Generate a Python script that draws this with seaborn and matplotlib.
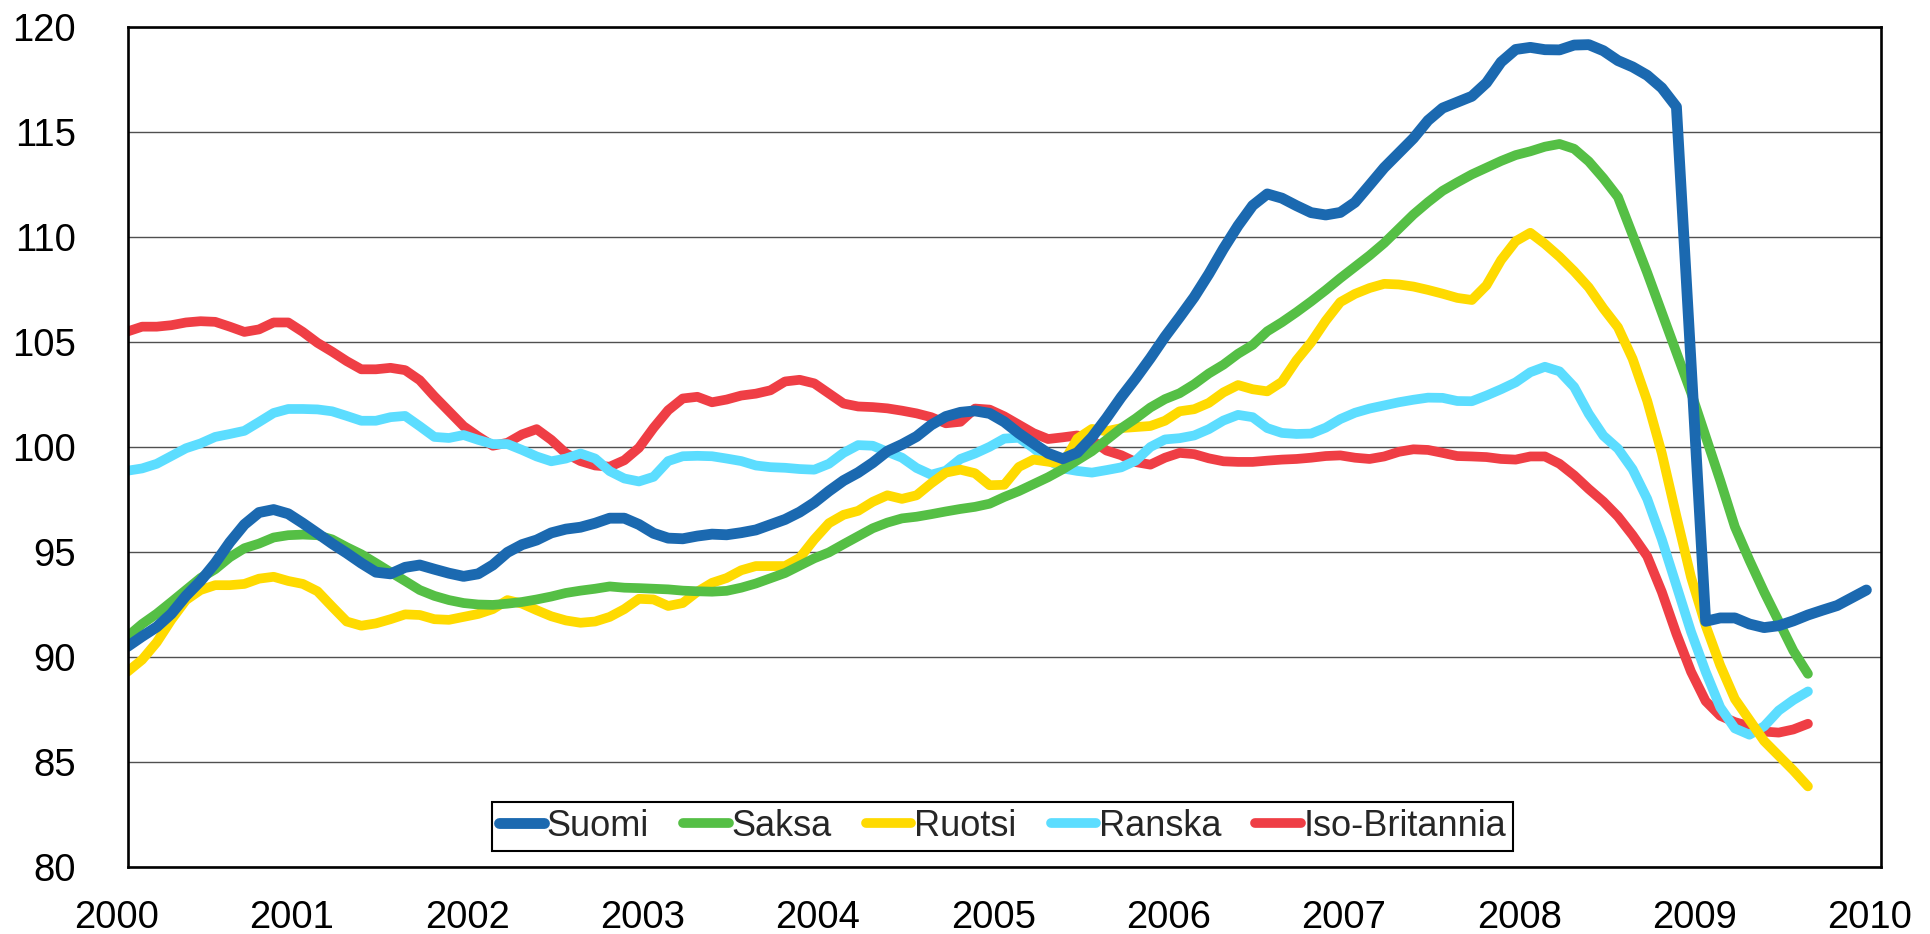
import numpy as np
import pandas as pd
import matplotlib
matplotlib.use("Agg")
import matplotlib.pyplot as plt
import matplotlib.transforms as mtransforms
import seaborn as sns

# ---------------- data ----------------
series_names = ["Suomi", "Saksa", "Ruotsi", "Ranska", "Iso-Britannia"]
series_colors = ["#1B69B0", "#55BF45", "#FFDA00", "#5CDDFF", "#EF3E45"]
start_year = 2000  # monthly observations starting January 2000

suomi = [
    90.5, 90.98, 91.43, 92.06, 92.91, 93.62, 94.47, 95.46, 96.31, 96.88,
    97.02, 96.82, 96.37, 95.89, 95.4, 94.95, 94.47, 94.04, 93.96, 94.27,
    94.38, 94.18, 93.99, 93.84, 93.96, 94.38, 94.98, 95.35, 95.57, 95.91,
    96.09, 96.18, 96.37, 96.61, 96.61, 96.31, 95.89, 95.66, 95.63, 95.76,
    95.85, 95.82, 95.92, 96.05, 96.3, 96.55, 96.9, 97.35, 97.9, 98.4,
    98.78, 99.25, 99.8, 100.12, 100.5, 101.05, 101.45, 101.65, 101.72, 101.6,
    101.2, 100.65, 100.17, 99.7, 99.44, 99.73, 100.46, 101.38, 102.37, 103.27,
    104.23, 105.25, 106.18, 107.14, 108.24, 109.44, 110.54, 111.5, 112.05, 111.85,
    111.49, 111.16, 111.05, 111.17, 111.65, 112.47, 113.3, 114.0, 114.7, 115.55,
    116.14, 116.42, 116.7, 117.34, 118.33, 118.93, 119.03, 118.92, 118.91, 119.14,
    119.16, 118.87, 118.4, 118.1, 117.7, 117.1, 116.2, 104.0, 91.7, 91.86,
    91.86, 91.57, 91.4, 91.49, 91.72, 92.0, 92.23, 92.45, 92.82, 93.19,
]
saksa = [
    90.98, 91.57, 92.06, 92.62, 93.19, 93.76, 94.18, 94.75, 95.18, 95.4,
    95.69, 95.8, 95.83, 95.8, 95.6, 95.23, 94.89, 94.47, 94.04, 93.62,
    93.19, 92.91, 92.71, 92.57, 92.5, 92.48, 92.54, 92.62, 92.74, 92.88,
    93.05, 93.16, 93.25, 93.36, 93.3, 93.28, 93.25, 93.22, 93.16, 93.13,
    93.11, 93.15, 93.3, 93.5, 93.75, 94.0, 94.35, 94.7, 94.98, 95.37,
    95.75, 96.13, 96.4, 96.6, 96.68, 96.8, 96.93, 97.05, 97.15, 97.3,
    97.62, 97.9, 98.23, 98.56, 98.94, 99.37, 99.8, 100.34, 100.89, 101.36,
    101.88, 102.28, 102.56, 102.99, 103.5, 103.92, 104.44, 104.86, 105.51, 105.94,
    106.42, 106.93, 107.47, 108.04, 108.58, 109.12, 109.71, 110.39, 111.07, 111.66,
    112.2, 112.6, 112.98, 113.3, 113.62, 113.9, 114.08, 114.3, 114.43, 114.2,
    113.6, 112.8, 111.9, 110.1, 108.3, 106.4, 104.5, 102.6, 100.5, 98.4,
    96.2, 94.6, 93.1, 91.7, 90.3, 89.2,
]
ruotsi = [
    89.3, 89.87, 90.7, 91.77, 92.71, 93.19, 93.42, 93.42, 93.48, 93.73,
    93.82, 93.62, 93.48, 93.13, 92.4, 91.69, 91.49, 91.6, 91.8, 92.03,
    92.0, 91.8, 91.77, 91.91, 92.05, 92.28, 92.71, 92.54, 92.23, 91.94,
    91.74, 91.63, 91.69, 91.91, 92.28, 92.77, 92.74, 92.43, 92.57, 93.11,
    93.53, 93.76, 94.13, 94.33, 94.33, 94.33, 94.72, 95.6, 96.37, 96.77,
    96.96, 97.39, 97.7, 97.53, 97.7, 98.27, 98.78, 98.92, 98.75, 98.18,
    98.2, 99.05, 99.4, 99.3, 99.19, 100.4, 100.86, 100.75, 100.9, 100.95,
    101.0, 101.25, 101.7, 101.8, 102.1, 102.6, 102.95, 102.75, 102.65, 103.1,
    104.13, 104.98, 106.01, 106.9, 107.29, 107.57, 107.77, 107.74, 107.64, 107.48,
    107.3, 107.1, 107.0, 107.7, 108.9, 109.8, 110.2, 109.67, 109.06, 108.37,
    107.6, 106.6, 105.7, 104.2, 102.2, 99.7, 96.7, 93.8, 91.5, 89.6,
    88.0, 87.0, 86.0, 85.3, 84.6, 83.84,
]
ranska = [
    98.87, 98.98, 99.2, 99.57, 99.94, 100.17, 100.48, 100.62, 100.77, 101.19,
    101.62, 101.81, 101.81, 101.79, 101.7, 101.48, 101.25, 101.25, 101.42, 101.48,
    100.99, 100.48, 100.43, 100.57, 100.34, 100.14, 100.14, 99.86, 99.55, 99.32,
    99.45, 99.69, 99.45, 98.85, 98.5, 98.36, 98.58, 99.33, 99.56, 99.58,
    99.56, 99.45, 99.33, 99.12, 99.04, 99.01, 98.95, 98.92, 99.2, 99.72,
    100.09, 100.06, 99.77, 99.49, 99.0, 98.68, 98.87, 99.43, 99.69, 100.01,
    100.4, 100.44, 99.95, 99.38, 98.98, 98.86, 98.78, 98.9, 99.03, 99.35,
    100.0, 100.36, 100.42, 100.55, 100.85, 101.26, 101.53, 101.42, 100.9, 100.67,
    100.62, 100.64, 100.92, 101.33, 101.63, 101.83, 101.98, 102.13, 102.25, 102.35,
    102.34, 102.19, 102.18, 102.45, 102.75, 103.08, 103.56, 103.82, 103.6, 102.86,
    101.58, 100.54, 99.92, 98.94, 97.53, 95.6, 93.4, 91.2, 89.3, 87.6,
    86.6, 86.3, 86.7, 87.45, 87.95, 88.36,
]
iso_britannia = [
    105.5, 105.73, 105.73, 105.8, 105.93, 105.99, 105.96, 105.73, 105.48, 105.6,
    105.93, 105.93, 105.48, 104.96, 104.54, 104.09, 103.7, 103.7, 103.77, 103.66,
    103.18, 102.41, 101.7, 100.99, 100.5, 100.06, 100.2, 100.6, 100.85, 100.34,
    99.7, 99.33, 99.12, 99.06, 99.37, 99.96, 100.91, 101.75, 102.31, 102.39,
    102.13, 102.26, 102.45, 102.54, 102.7, 103.12, 103.2, 103.03, 102.55, 102.07,
    101.93, 101.9, 101.84, 101.73, 101.6, 101.42, 101.13, 101.2, 101.83, 101.78,
    101.46, 101.06, 100.66, 100.38, 100.46, 100.55, 100.32, 99.83, 99.61, 99.28,
    99.16, 99.49, 99.72, 99.66, 99.46, 99.32, 99.29, 99.29, 99.35, 99.4,
    99.43, 99.49, 99.57, 99.6, 99.49, 99.43, 99.55, 99.77, 99.89, 99.86,
    99.72, 99.57, 99.55, 99.52, 99.43, 99.4, 99.55, 99.55, 99.2, 98.65,
    98.0, 97.4, 96.69, 95.8, 94.8, 93.1, 91.1, 89.3, 87.9, 87.2,
    86.9, 86.7, 86.45, 86.4, 86.55, 86.82,
]

year_ticks = list(range(2000, 2011))
value_ticks = [80, 85, 90, 95, 100, 105, 110, 115, 120]

# ---------------- style ----------------
sns.set_style("white")
plt.rcParams["font.family"] = ["Liberation Sans", "DejaVu Sans"]

W, H = 1930, 934
fig = plt.figure(figsize=(W / 100, H / 100), dpi=100)
ax_left, ax_right, ax_top, ax_bottom = 127.5, 1881, 27, 867
ax = fig.add_axes([ax_left / W, 1 - ax_bottom / H,
                   (ax_right - ax_left) / W, (ax_bottom - ax_top) / H])

all_values = [suomi, saksa, ruotsi, ranska, iso_britannia]
frames = []
for name, vals in zip(series_names, all_values):
    frames.append(pd.DataFrame({
        "aika": start_year + np.arange(len(vals)) / 12.0,
        "indeksi": vals,
        "maa": name,
    }))
df = pd.concat(frames, ignore_index=True)

line_widths = {"Suomi": 7.8, "Saksa": 7.0, "Ruotsi": 7.0, "Ranska": 7.0, "Iso-Britannia": 7.0}
handles = {}
for i in reversed(range(len(series_names))):
    name = series_names[i]
    sub = df[df["maa"] == name]
    sns.lineplot(data=sub, x="aika", y="indeksi", ax=ax, color=series_colors[i],
                 linewidth=line_widths[name], estimator=None, legend=False,
                 solid_capstyle="round", solid_joinstyle="round",
                 zorder=3 + (len(series_names) - i))
    handles[name] = ax.lines[-1]

ax.set_xlim(2000, 2010)
ax.set_ylim(80, 120)
ax.set_xticks(year_ticks)
ax.set_xticklabels([str(y) for y in year_ticks])
ax.set_yticks(value_ticks)
ax.set_yticklabels([str(v) for v in value_ticks])
ax.set_xlabel("")
ax.set_ylabel("")

ax.yaxis.grid(True, color="#505050", linewidth=1.0)
ax.xaxis.grid(False)
ax.set_axisbelow(True)
for sp in ax.spines.values():
    sp.set_visible(True)
    sp.set_color("black")
    sp.set_linewidth(1.9)
    sp.set_zorder(20)

ax.tick_params(axis="both", length=0, labelsize=27.5, labelcolor="black")
ax.tick_params(axis="y", pad=37)
ax.tick_params(axis="x", pad=24)

shift = mtransforms.ScaledTranslation(-11 / 100, 0, fig.dpi_scale_trans)
for lbl in ax.get_xticklabels():
    lbl.set_transform(lbl.get_transform() + shift)

leg = ax.legend(handles=[handles[n] for n in series_names], labels=series_names,
                ncol=5, loc="center",
                bbox_to_anchor=((492 + 1513) / 2 / W, 1 - (798 + 855) / 2 / H),
                bbox_transform=fig.transFigure,
                frameon=True, fancybox=False, shadow=False, framealpha=1,
                edgecolor="black", facecolor="white",
                handlelength=1.25, handletextpad=0.08, columnspacing=0.95,
                borderpad=0.2, borderaxespad=0,
                prop={"family": ["Liberation Sans", "DejaVu Sans"], "size": 26})
leg.get_frame().set_linewidth(1.5)
leg.set_zorder(30)

fig.savefig("out.png", dpi=100)
